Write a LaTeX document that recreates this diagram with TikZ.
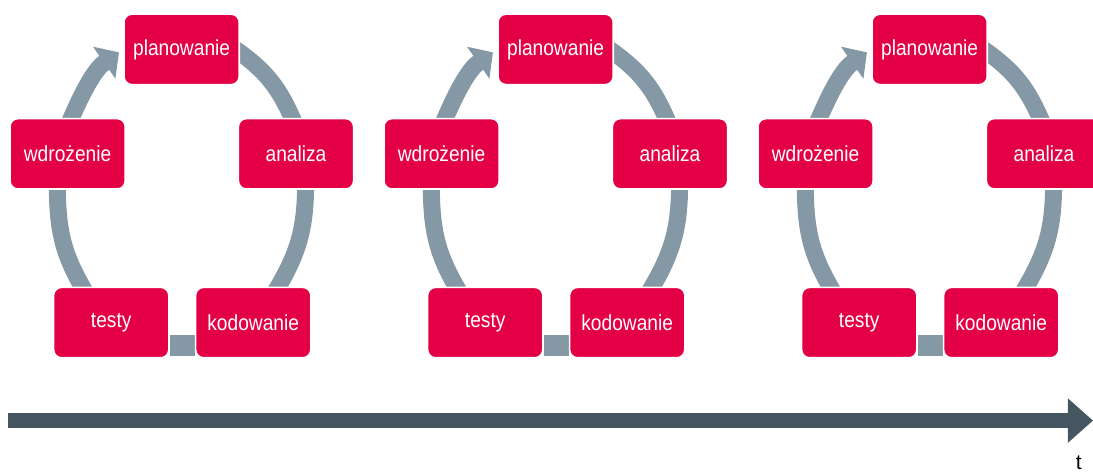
\documentclass[tikz,border=0pt]{standalone}
\usepackage{fontspec}
\setmainfont{Liberation Sans}
\newfontfamily\boxfont{Liberation Sans}[FakeStretch=0.88]
\usepackage{tikz}
\usetikzlibrary{positioning,arrows.meta}
\definecolor{boxred}{HTML}{E30045}
\definecolor{ringgray}{HTML}{8598A5}
\definecolor{timeline}{HTML}{455660}
\pgfdeclarelayer{background}
\pgfsetlayers{background,main}

\begin{document}
\begin{tikzpicture}[
  phase/.style={draw=white, line width=0.04cm, fill=boxred, rounded corners=0.2cm,
    minimum width=2.88cm, minimum height=1.76cm, inner sep=0pt, text=white,
    font=\boxfont\fontsize{15.5}{18}\selectfont},
  ring/.style={draw=ringgray, line width=0.425cm},
]
  \useasboundingbox (0,0) rectangle (27.325,11.875);

  % 3 iterations of the cycle
  \foreach \c in {0,1,2} {
    \node[phase] (plan\c) at ({9.35*\c + 4.54}, 10.64) {planowanie};
    \node[phase] (anal\c) at ({9.35*\c + 7.40}, 8.03) {analiza};
    \node[phase] (kod\c)  at ({9.35*\c + 6.33}, 3.81) {kodowanie};
    \node[phase] (test\c) at ({9.35*\c + 2.78}, 3.81) {testy};
    \node[phase] (wdr\c)  at ({9.35*\c + 1.69}, 8.03) {wdrożenie};

    % Ring segments behind the boxes
    \begin{pgfonlayer}{background}
      \draw[ring, shorten <=-0.2cm, shorten >=-0.2cm] (plan\c.-3) to[out=-35, in=113] (anal\c.96);
      \draw[ring, shorten <=-0.2cm, shorten >=-0.2cm] (anal\c.-75) to[out=-90, in=59] (kod\c.55);
      \draw[ring, line width=0.525cm] (kod\c.201) -- (test\c.-21);
      \draw[ring, shorten <=-0.2cm, shorten >=-0.2cm] (test\c.129) to[out=121, in=-90] (wdr\c.-106);
      \draw[ring, shorten <=-0.2cm, shorten >=0.13cm, -{Triangle[width=0.95cm, length=0.45cm]}]
        (wdr\c.84) to[out=67, in=-145] (plan\c.west);
    \end{pgfonlayer}
  }

  % Time axis
  \coordinate (tstart) at (0.2, 1.36);
  \coordinate (tend) at (27.325, 1.36);
  \draw[timeline, line width=0.375cm, -{Triangle[width=1.075cm, length=0.63cm]}] (tstart) -- (tend);
  \node[anchor=base, font=\fontsize{15}{15}\selectfont] (tlabel) at (26.97, 0.14) {t};
\end{tikzpicture}
\end{document}
